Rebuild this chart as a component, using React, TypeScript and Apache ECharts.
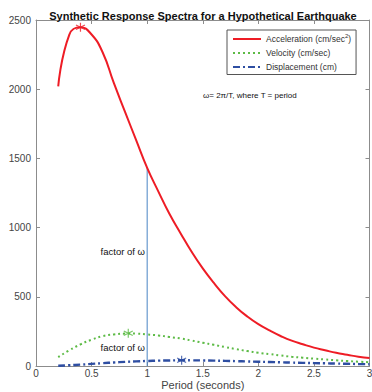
import React, { useEffect, useRef } from "react";
import * as echarts from "echarts";

const periods = [0.2, 0.3, 0.4, 0.5, 0.6, 0.7, 0.8, 0.9, 1.0, 1.1, 1.2, 1.3, 1.4, 1.5, 1.6, 1.7, 1.8, 1.9, 2.0, 2.1, 2.2, 2.3, 2.4, 2.5, 2.6, 2.7, 2.8, 2.9, 3.0];
const acceleration = [2020, 2395, 2448, 2395, 2265, 2045, 1838, 1634, 1432, 1262, 1100, 960, 825, 705, 600, 505, 425, 358, 302, 257, 217, 183, 157, 133, 114, 95, 81, 67, 57];
const velocity = [64, 114, 156, 190, 216, 228, 234, 234, 228, 221, 210, 199, 184, 168, 153, 137, 122, 108, 96, 86, 76, 67, 60, 53, 47, 41, 36, 31, 27];
const displacement = [2.0, 5.4, 9.9, 15.1, 20.6, 25.4, 29.8, 33.5, 36.3, 38.7, 40.1, 41.2, 41.0, 40.1, 39.0, 37.1, 35.0, 32.7, 30.6, 28.7, 26.6, 24.5, 22.9, 21.1, 19.4, 17.6, 16.0, 14.3, 12.9];
const accelerationPeak = [0.4, 2448];
const velocityPeak = [0.83, 236];
const displacementPeak = [1.31, 41];
const xTicks = [0, 0.5, 1, 1.5, 2, 2.5, 3];
const yTicks = [0, 500, 1000, 1500, 2000, 2500];
const seriesNames = ["Acceleration (cm/sec{sup|2})", "Velocity (cm/sec)", "Displacement (cm)"];
const markerPeriod = 1;

const RED = "#ee1c25";
const GREEN = "#5dbb46";
const BLUE = "#2e4ea2";
const VLINE = "#4a84c4";
const AXIS = "#8c8c8c";
const TEXT = "#333333";
const FONT = "'Liberation Sans', Arial, Helvetica, sans-serif";

const STAR = "path://M5,0L5,10M0.67,2.5L9.33,7.5M0.67,7.5L9.33,2.5";

export default function App() {
  const ref = useRef<HTMLDivElement>(null);
  useEffect(() => {
    document.body.style.margin = "0";
    if (!ref.current) return;
    const chart = echarts.init(ref.current, undefined, { renderer: "svg" });
    const pairs = (ys: number[]) => periods.map((t, i) => [t, ys[i]]);
    const vIdx = periods.indexOf(markerPeriod);
    const axisCommon = {
      min: 0,
      axisLine: { show: true, onZero: false, lineStyle: { color: AXIS, width: 1 } },
      axisTick: { show: true, inside: true, length: 4, lineStyle: { color: AXIS } },
      splitLine: { show: false },
    };
    const starSeries = (pt: number[], color: string) => ({
      type: "scatter",
      data: [pt],
      symbol: STAR,
      symbolSize: 9,
      itemStyle: { color: "none", borderColor: color, borderWidth: 1.2 },
      silent: true,
      z: 5,
    });
    chart.setOption({
      animation: false,
      textStyle: { fontFamily: FONT },
      title: {
        text: "Synthetic Response Spectra for a Hypothetical Earthquake",
        left: 198,
        textAlign: "center",
        top: 5,
        textStyle: { fontSize: 11, fontWeight: "bold", color: "#111", fontFamily: FONT },
      },
      grid: { left: 36, right: 2.5, top: 20, bottom: 26, containLabel: false, outerBoundsMode: "none" },
      legend: {
        data: seriesNames.map((n) => ({ name: n })),
        orient: "vertical",
        left: 227,
        top: 30,
        width: 133,
        itemWidth: 28,
        itemHeight: 10,
        itemGap: 5,
        padding: [3, 5, 3, 5],
        borderColor: "#555",
        borderWidth: 1,
        backgroundColor: "#fff",
        itemStyle: { color: "rgba(0,0,0,0)", borderWidth: 0, opacity: 0 },
        textStyle: {
          fontSize: 8.5,
          color: TEXT,
          fontFamily: FONT,
          rich: { sup: { fontSize: 6, verticalAlign: "top", padding: [0, 0, 6, 0], color: TEXT } },
        },
        selectedMode: false,
      },
      xAxis: [
        {
          ...axisCommon,
          type: "value",
          max: 3,
          interval: 0.5,
          position: "bottom",
          name: "Period (seconds)",
          nameLocation: "middle",
          nameGap: 13.5,
          nameMoveOverlap: false,
          nameTextStyle: { fontSize: 11, color: "#444", fontFamily: FONT },
          axisLabel: { fontSize: 10, color: "#444", margin: 2, fontFamily: FONT, formatter: (v: number) => String(xTicks.includes(v) ? v : "") },
        },
        {
          ...axisCommon,
          type: "value",
          max: 3,
          interval: 0.5,
          position: "top",
          axisLabel: { show: false },
        },
      ],
      yAxis: [
        {
          ...axisCommon,
          type: "value",
          max: 2500,
          interval: 500,
          position: "left",
          axisLabel: { fontSize: 10, color: "#444", margin: 5, fontFamily: FONT, formatter: (v: number) => String(yTicks.includes(v) ? v : "") },
        },
        {
          ...axisCommon,
          type: "value",
          max: 2500,
          interval: 500,
          position: "right",
          axisLabel: { show: false },
        },
      ],
      series: [
        {
          name: seriesNames[0],
          type: "line",
          data: pairs(acceleration),
          smooth: true,
          symbol: "none",
          lineStyle: { color: RED, width: 2 },
          itemStyle: { color: RED },
          z: 4,
        },
        {
          name: seriesNames[1],
          type: "line",
          data: pairs(velocity),
          smooth: true,
          symbol: "none",
          lineStyle: { color: GREEN, width: 2, type: [2, 3] },
          itemStyle: { color: GREEN },
          z: 4,
        },
        {
          name: seriesNames[2],
          type: "line",
          data: pairs(displacement),
          smooth: true,
          symbol: "none",
          lineStyle: { color: BLUE, width: 2.4, type: [7, 3, 2, 3] },
          itemStyle: { color: BLUE },
          z: 4,
        },
        {
          name: "omega",
          type: "line",
          data: [[markerPeriod, 0], [markerPeriod, acceleration[vIdx]]],
          symbol: "none",
          lineStyle: { color: VLINE, width: 1 },
          silent: true,
          z: 3,
        },
        starSeries(accelerationPeak, RED),
        starSeries(velocityPeak, GREEN),
        starSeries(displacementPeak, BLUE),
      ],
      graphic: [
        {
          type: "text",
          left: 203,
          top: 91,
          style: { text: "ω= 2π/T, where T = period", fontSize: 8, fill: "#111", fontFamily: FONT },
        },
        {
          type: "text",
          right: 372 - 145,
          top: 246,
          style: { text: "factor of ω", fontSize: 9.5, fill: "#111", fontFamily: FONT },
        },
        {
          type: "text",
          right: 372 - 145,
          top: 342,
          style: { text: "factor of ω", fontSize: 9.5, fill: "#111", fontFamily: FONT },
        },
      ],
    });
    return () => chart.dispose();
  }, []);
  return <div ref={ref} style={{ width: 372, height: 392 }} />;
}
